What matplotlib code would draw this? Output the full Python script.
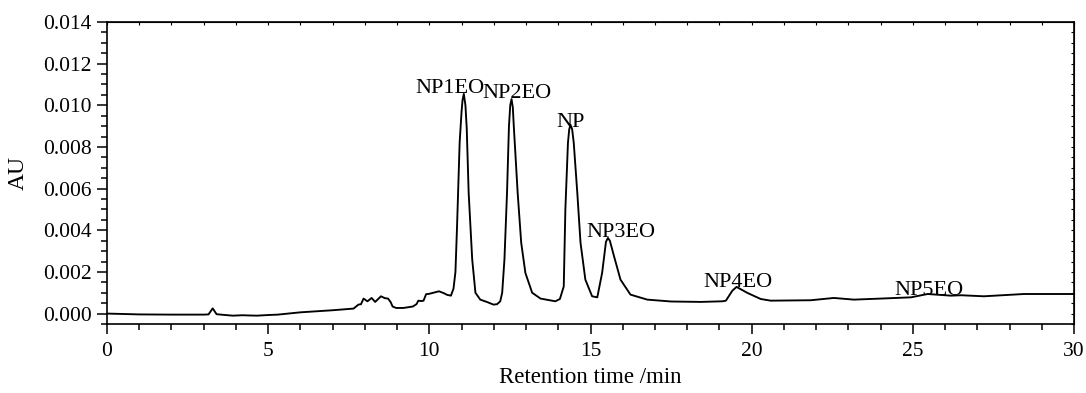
import matplotlib
matplotlib.use("Agg")
import matplotlib.pyplot as plt
from matplotlib.ticker import MultipleLocator, FormatStrFormatter
import numpy as np

plt.rcParams['font.family'] = ['Liberation Serif', 'DejaVu Serif']

# Retention time (min) and absorbance (x0.001 AU)
time_min = [0.0, 0.5, 1.0, 2.0, 3.0, 3.15, 3.28, 3.4, 3.6, 3.9, 4.2, 4.4, 4.65, 5.0, 5.3,
            6.0, 7.0, 7.65, 7.8, 7.88, 7.96, 8.08, 8.21, 8.32, 8.5, 8.62, 8.72, 8.8, 8.86,
            8.97, 9.2, 9.49, 9.6, 9.66, 9.75, 9.82, 9.9, 10.0, 10.3, 10.45, 10.55, 10.67,
            10.75, 10.81, 10.86, 10.94, 11.0, 11.03, 11.07, 11.12, 11.16, 11.22, 11.33,
            11.43, 11.58, 11.8, 11.99, 12.1, 12.2, 12.26, 12.33, 12.41, 12.47, 12.51,
            12.55, 12.59, 12.62, 12.74, 12.85, 12.98, 13.19, 13.45, 13.91, 14.05, 14.17,
            14.22, 14.30, 14.34, 14.38, 14.43, 14.48, 14.59, 14.69, 14.84, 15.05, 15.21,
            15.36, 15.48, 15.54, 15.6, 15.73, 15.93, 16.24, 16.76, 17.5, 18.42, 19.1,
            19.2, 19.4, 19.53, 19.87, 20.28, 20.59, 21.83, 22.55, 23.17, 24.0, 24.94,
            25.46, 26.18, 26.5, 27.2, 28.45, 30.0]
absorbance_mAU = [0.00, -0.02, -0.04, -0.05, -0.05, -0.04, 0.25, -0.03, -0.06, -0.10,
                  -0.08, -0.09, -0.10, -0.07, -0.05, 0.06, 0.16, 0.24, 0.43, 0.45, 0.72,
                  0.59, 0.75, 0.56, 0.83, 0.74, 0.72, 0.55, 0.34, 0.27, 0.27, 0.34, 0.45,
                  0.62, 0.60, 0.62, 0.93, 0.95, 1.07, 0.98, 0.90, 0.86, 1.2, 2.0, 4.2, 8.2,
                  9.7, 10.25, 10.55, 10.0, 8.9, 5.8, 2.6, 1.0, 0.67, 0.55, 0.43, 0.45, 0.59,
                  1.0, 2.6, 5.8, 9.0, 10.0, 10.3, 9.9, 9.0, 5.8, 3.4, 1.95, 1.0, 0.72, 0.59,
                  0.7, 1.3, 5.0, 8.2, 8.85, 9.06, 8.85, 8.2, 5.8, 3.4, 1.63, 0.83, 0.78,
                  1.95, 3.45, 3.63, 3.5, 2.75, 1.63, 0.91, 0.67, 0.58, 0.56, 0.59, 0.62,
                  1.1, 1.28, 0.99, 0.70, 0.62, 0.64, 0.75, 0.67, 0.72, 0.78, 0.94, 0.86,
                  0.88, 0.83, 0.94, 0.94]

peak_names = ['NP1EO', 'NP2EO', 'NP', 'NP3EO', 'NP4EO', 'NP5EO']
label_x = [10.65, 12.73, 14.38, 15.93, 19.57, 25.5]
label_y_mAU = [10.6, 10.35, 8.96, 3.69, 1.29, 0.91]

fig = plt.figure(figsize=(10.86, 3.93), dpi=100)
ax = fig.add_axes([0.0985, 0.1756, 0.8905, 0.7684])

ax.plot(time_min, np.array(absorbance_mAU) / 1000.0, color='black', lw=1.35)

for name, x, y in zip(peak_names, label_x, label_y_mAU):
    ax.text(x, y / 1000.0, name, ha='center', va='baseline', fontsize=16)

ax.set_xlim(0, 30)
ax.set_ylim(-0.0005, 0.014)
ax.xaxis.set_major_locator(MultipleLocator(5))
ax.xaxis.set_minor_locator(MultipleLocator(1))
ax.yaxis.set_major_locator(MultipleLocator(0.002))
ax.yaxis.set_minor_locator(MultipleLocator(0.0005))
ax.yaxis.set_major_formatter(FormatStrFormatter('%.3f'))

ax.tick_params(axis='both', which='major', direction='out', length=7, width=1.1,
               labelsize=15.5)
ax.tick_params(axis='x', which='major', pad=6)
ax.tick_params(axis='y', which='major', pad=4)
ax.tick_params(axis='both', which='minor', direction='out', length=4, width=1.1)
for s in ax.spines.values():
    s.set_linewidth(1.2)

# short inward ticks on top and right
secx = ax.secondary_xaxis('top')
secx.xaxis.set_major_locator(MultipleLocator(1))
secx.tick_params(direction='in', length=2, width=0.8, labeltop=False)
secy = ax.secondary_yaxis('right')
secy.yaxis.set_major_locator(MultipleLocator(0.0005))
secy.tick_params(direction='in', length=2, width=0.8, labelright=False)

ax.set_xlabel('Retention time /min', fontsize=16.5, labelpad=4)
ax.set_ylabel('AU', fontsize=17, labelpad=10)

fig.savefig('out.png', dpi=100)
